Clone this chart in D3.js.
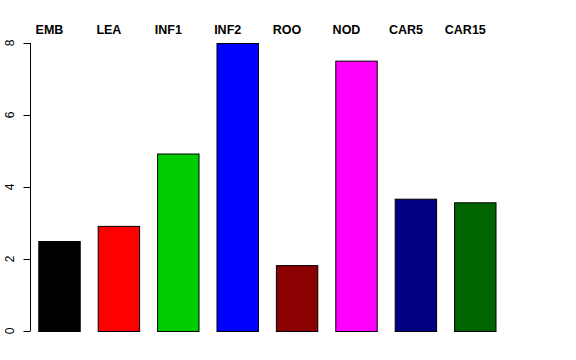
<!DOCTYPE html>
<html>
<head>
<meta charset="utf-8">
<script src="https://cdn.jsdelivr.net/npm/d3@7"></script>
<style>
  body { margin: 0; background: white; }
  text { font-family: "Liberation Sans", Arial, sans-serif; }
</style>
</head>
<body>
<svg id="chart" width="576" height="360"></svg>
<script>
// data
const categories = ['EMB', 'LEA', 'INF1', 'INF2', 'ROO', 'NOD', 'CAR5', 'CAR15'];
const values = [2.5, 2.92, 4.93, 8.0, 1.83, 7.51, 3.675, 3.575];
const barColors = ['#000000', '#FF0000', '#00CD00', '#0000FF', '#8B0000', '#FF00FF', '#000080', '#006400'];
const yTicks = [0, 2, 4, 6, 8];

const svg = d3.select('#chart');

const x = d3.scaleBand()
  .domain(categories)
  .range([29.8, 505])
  .paddingInner(0.286)
  .paddingOuter(0.143);

const y = d3.scaleLinear()
  .domain([0, 8])
  .range([331, 43]);

// bars
svg.selectAll('rect.bar')
  .data(categories)
  .enter().append('rect')
  .attr('class', 'bar')
  .attr('x', d => x(d) + 0.5)
  .attr('y', (d, i) => y(values[i]) + 0.5)
  .attr('width', x.bandwidth() - 1)
  .attr('height', (d, i) => y(0) - y(values[i]))
  .attr('fill', (d, i) => barColors[i])
  .attr('stroke', '#000')
  .attr('stroke-width', 1);

// y axis, R style
const yAxis = svg.append('g').attr('transform', 'translate(30.5,0)');
yAxis.append('line')
  .attr('y1', y(0)).attr('y2', y(8))
  .attr('stroke', '#000');
yAxis.selectAll('line.tick')
  .data(yTicks)
  .enter().append('line')
  .attr('class', 'tick')
  .attr('x1', -7).attr('x2', 0)
  .attr('y1', d => Math.round(y(d)) + 0.5)
  .attr('y2', d => Math.round(y(d)) + 0.5)
  .attr('stroke', '#000');
yAxis.selectAll('text')
  .data(yTicks)
  .enter().append('text')
  .attr('transform', d => `translate(-17,${y(d)}) rotate(-90)`)
  .attr('text-anchor', 'middle')
  .attr('font-size', 12)
  .text(d => d);

// category labels along the top, a bit left of each bar centre
svg.selectAll('text.cat')
  .data(categories)
  .enter().append('text')
  .attr('class', 'cat')
  .attr('x', d => x(d) + x.bandwidth() / 2 - 10)
  .attr('y', 34)
  .attr('text-anchor', 'middle')
  .attr('font-size', 12.5)
  .attr('font-weight', 'bold')
  .text(d => d);
</script>
</body>
</html>
